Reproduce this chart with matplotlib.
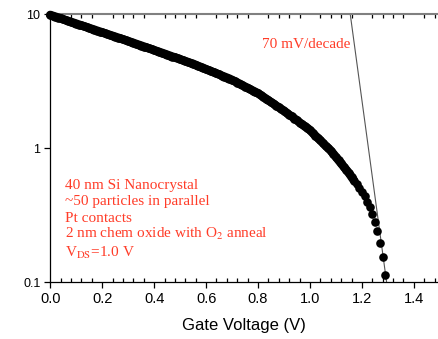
import matplotlib
matplotlib.use("Agg")
import matplotlib.pyplot as plt
from matplotlib.ticker import FixedLocator, MultipleLocator, NullLocator, FixedFormatter

# gate voltage sweep (V), 10 mV steps
gate_v = [round(0.01 * k, 2) for k in range(130)]

# drain current (arb. units)
current = [
    9.84, 9.69, 9.55, 9.41, 9.27, 9.13, 8.99, 8.86, 8.73, 8.60,
    8.47, 8.34, 8.22, 8.10, 7.98, 7.86, 7.74, 7.63, 7.51, 7.40,
    7.29, 7.18, 7.08, 6.97, 6.87, 6.77, 6.67, 6.57, 6.47, 6.37,
    6.28, 6.18, 6.09, 5.99, 5.90, 5.81, 5.72, 5.63, 5.54, 5.46,
    5.37, 5.29, 5.21, 5.13, 5.05, 4.97, 4.89, 4.81, 4.74, 4.66,
    4.59, 4.52, 4.45, 4.38, 4.31, 4.25, 4.17, 4.09, 4.02, 3.95,
    3.87, 3.80, 3.73, 3.67, 3.60, 3.54, 3.47, 3.41, 3.35, 3.29,
    3.22, 3.15, 3.08, 3.01, 2.94, 2.87, 2.81, 2.74, 2.68, 2.62,
    2.56, 2.48, 2.41, 2.34, 2.27, 2.20, 2.14, 2.07, 2.01, 1.95,
    1.90, 1.83, 1.77, 1.72, 1.66, 1.61, 1.55, 1.50, 1.45, 1.41,
    1.36, 1.30, 1.24, 1.19, 1.14, 1.09, 1.04, 1.00, 0.957, 0.906,
    0.857, 0.811, 0.767, 0.726, 0.687, 0.650, 0.609, 0.571, 0.536, 0.502,
    0.471, 0.436, 0.398, 0.363, 0.324, 0.279, 0.240, 0.195, 0.155, 0.112,
]

# subthreshold slope fit line (70 mV/decade)
fit_v = [1.155, 1.295]
fit_i = [10.0, 0.1]

x_ticks = [0.0, 0.2, 0.4, 0.6, 0.8, 1.0, 1.2, 1.4]
y_ticks = [0.1, 1, 10]
y_labels = ["0.1", "1", "10"]

notes = [
    "40 nm Si Nanocrystal",
    "~50 particles in parallel",
    "Pt contacts",
    "2 nm chem oxide with O$_2$ anneal",
    "V$_{\\mathrm{DS}}$=1.0 V",
]

RED = "#ff3c28"
MS = 6.2

plt.rcParams["mathtext.fontset"] = "stix"

fig = plt.figure(figsize=(4.38, 3.39), dpi=100)
ax = fig.add_axes([0.1148, 0.168, 0.8852, 0.7906])

ax.plot(fit_v, fit_i, color="#555555", lw=0.8, zorder=2)
# where the dots overlap they form a solid band; a thick line keeps its edge smooth
n_dense = 118
ax.plot(gate_v[:n_dense], current[:n_dense], color="black", lw=MS,
        solid_capstyle="round", solid_joinstyle="round", zorder=3, clip_on=False)
ax.scatter(gate_v, current, s=MS ** 2, c="black", linewidths=0, zorder=3,
           clip_on=False, snap=False)

ax.set_yscale("log")
ax.set_ylim(0.1, 10)
ax.set_xlim(0, 1.493)

ax.yaxis.set_major_locator(FixedLocator(y_ticks))
ax.yaxis.set_major_formatter(FixedFormatter(y_labels))
ax.yaxis.set_minor_locator(NullLocator())
ax.xaxis.set_major_locator(FixedLocator(x_ticks))
ax.xaxis.set_minor_locator(MultipleLocator(0.04))
ax.set_xticklabels([f"{t:.1f}" for t in x_ticks])

ax.spines["right"].set_visible(False)
ax.spines["top"].set_color("#808080")
ax.spines["top"].set_linewidth(1.5)
for s in ("left", "bottom"):
    ax.spines[s].set_linewidth(0.9)

ax.tick_params(axis="x", which="major", direction="out", length=4, width=0.9,
               top=False, labelsize=10.5, pad=3)
ax.tick_params(axis="x", which="minor", direction="in", length=3, width=0.9,
               top=True, bottom=True)
ax.tick_params(axis="y", which="major", direction="out", length=4, width=0.9,
               labelsize=9, pad=3)
for lab in ax.get_xticklabels() + ax.get_yticklabels():
    lab.set_family("Liberation Sans")

ax.set_xlabel("Gate Voltage (V)", family="Liberation Sans", fontsize=12, labelpad=9)

ax.text(0.545, 0.872, "70 mV/decade", transform=ax.transAxes, color=RED,
        family="Liberation Serif", fontsize=11, va="baseline")

note_y = [0.347, 0.287, 0.225, 0.163, 0.092]
for txt, yy in zip(notes, note_y):
    ax.text(0.0387, yy, txt, transform=ax.transAxes, color=RED,
            family="Liberation Serif", fontsize=11, va="baseline")

fig.savefig("out.png", dpi=100)
